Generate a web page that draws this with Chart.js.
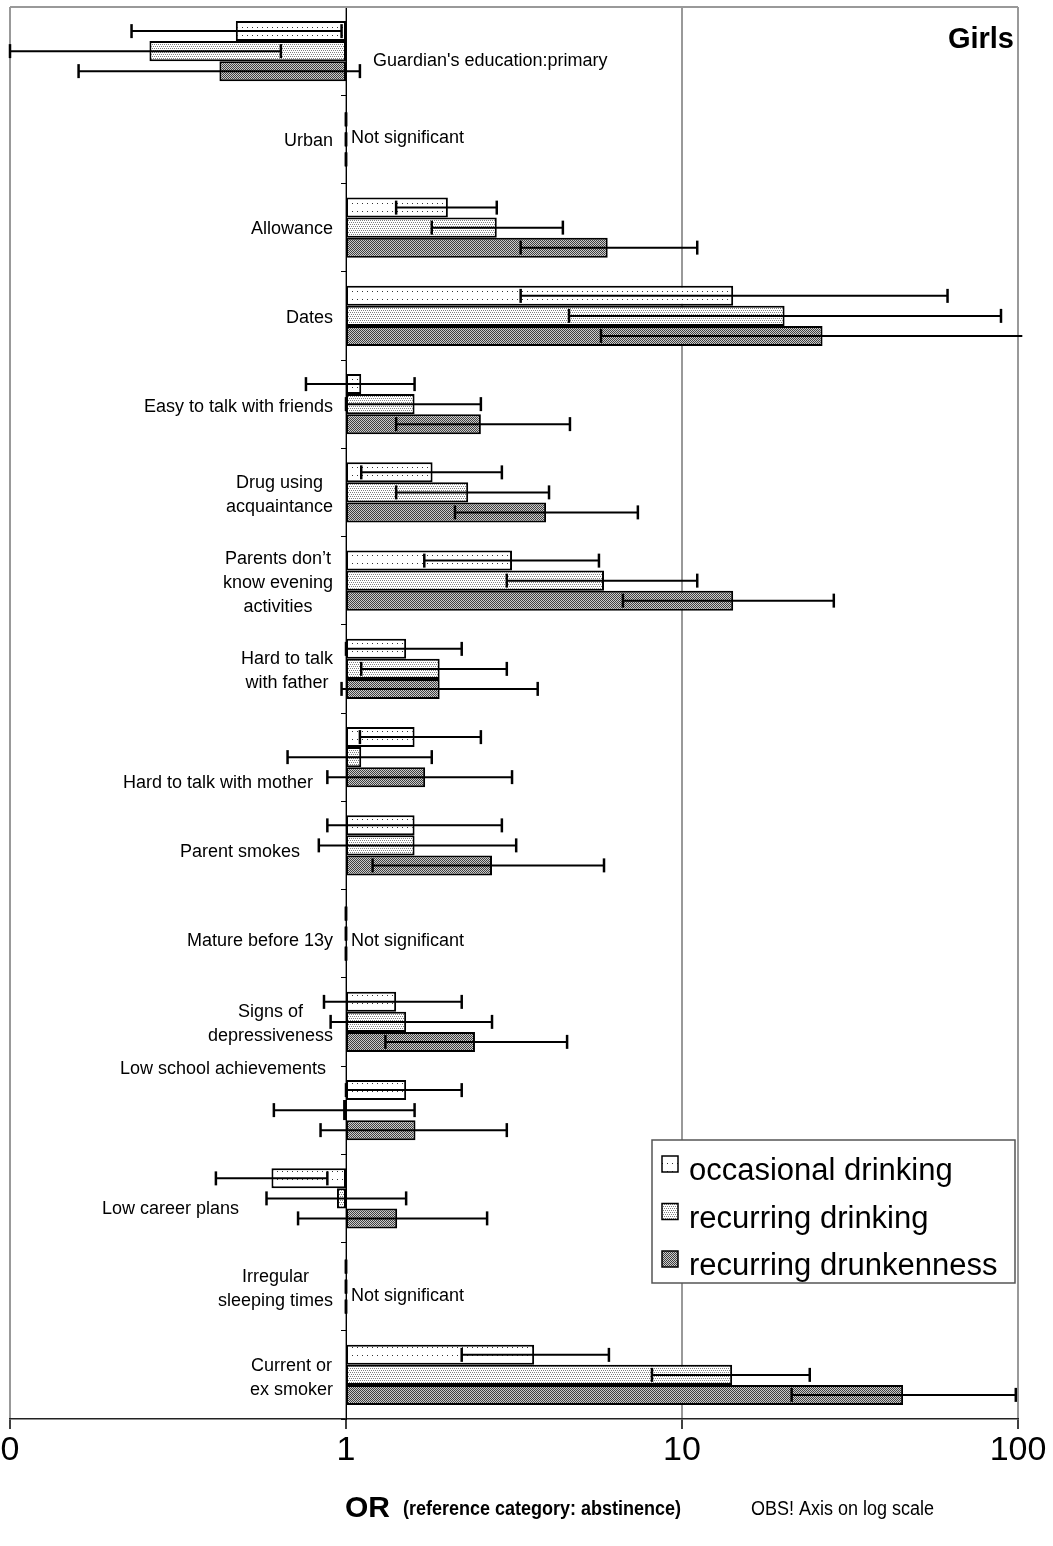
<!DOCTYPE html>
<html>
<head>
<meta charset="utf-8">
<title>OR girls</title>
<script src="https://cdn.jsdelivr.net/npm/chart.js@4.4.0/dist/chart.umd.min.js"></script>
<style>
	html, body { margin: 0; padding: 0; background: #fff; }
	#grafOR { display: block; }
</style>
</head>
<body>
<canvas id="grafOR" width="1053" height="1546"></canvas>
<script>
/*================ DATOS =================*/
const categorias = [
	"Guardian's education:primary",
	"Urban",
	"Allowance",
	"Dates",
	"Easy to talk with friends",
	["Drug using", "acquaintance"],
	["Parents don’t", "know evening", "activities"],
	["Hard to talk", "with father"],
	"Hard to talk with mother",
	"Parent smokes",
	"Mature before 13y",
	["Signs of", "depressiveness"],
	"Low school achievements",
	"Low career plans",
	["Irregular", "sleeping times"],
	["Current or", "ex smoker"]
];

const series = ["occasional drinking", "recurring drinking", "recurring drunkenness"];

// odds ratios (1 = not significant)
const occasional = [0.47, 1, 2.01, 14.2, 1.11, 1.81, 3.12, 1.51, 1.60, 1.60, 1, 1.41, 1.51, 0.60, 1, 3.63];
const occLo      = [0.23, 1, 1.41, 3.31, 0.76, 1.11, 1.71, 1.00, 1.10, 0.88, 1, 0.86, 1.00, 0.41, 1, 2.21];
const occHi      = [0.97, 1, 2.81, 61.7, 1.60, 2.91, 5.66, 2.21, 2.52, 2.91, 1, 2.21, 2.21, 0.88, 1, 6.06];

const recurring  = [0.26, 1, 2.81, 20.2, 1.60, 2.31, 5.86, 1.90, 1.11, 1.60, 1, 1.51, 0.98, 0.94, 1, 14.1];
const recLo      = [0.10, 1, 1.80, 4.61, 1.00, 1.41, 3.01, 1.11, 0.67, 0.83, 1, 0.90, 0.61, 0.58, 1, 8.14];
const recHi      = [0.64, 1, 4.42, 89.0, 2.52, 4.02, 11.1, 3.01, 1.80, 3.21, 1, 2.72, 1.60, 1.51, 1, 24.0];

const drunkenness = [0.42, 1, 6.01, 26.2, 2.52, 3.94, 14.2, 1.90, 1.72, 2.72, 1, 2.42, 1.61, 1.42, 1, 45.5];
const drunkLo     = [0.16, 1, 3.31, 5.74, 1.41, 2.11, 6.67, 0.97, 0.88, 1.20, 1, 1.31, 0.84, 0.72, 1, 21.2];
const drunkHi     = [1.10, 1, 11.1, 103,  4.64, 7.39, 28.3, 3.72, 3.12, 5.86, 1, 4.55, 3.01, 2.63, 1, 98.5];

const tickValues = [0.1, 1, 10, 100];
const tickLabels = ["0", "1", "10", "100"];

/*================ ESTILO =================*/
const FONT = "'Liberation Sans', Arial, Helvetica, sans-serif";

// label placement: dx from the OR=1 axis, dy from the category centre
const labelPos = [
	{ side: 'right', dx: 27, dy: 10 },
	{ dx: -13, dy: 2, ns: -1 },
	{ dx: -13, dy: 1 },
	{ dx: -13, dy: 2 },
	{ dx: -13, dy: 3 },
	{ dx: -13, dy: 3 },
	{ dx: -13, dy: 2 },
	{ dx: -13, dy: 2 },
	{ dx: -33, dy: 26 },
	{ dx: -46, dy: 7 },
	{ dx: -13, dy: 7, ns: 7 },
	{ dx: -13, dy: 2 },
	{ dx: -20, dy: -41 },
	{ dx: -107, dy: 11 },
	{ dx: -13, dy: 2, ns: 9 },
	{ dx: -13, dy: 3 }
];

const canvas = document.getElementById('grafOR');
const ctx0 = canvas.getContext('2d');

function makePattern(w, h, bg, dots, dotColor){
	const c = document.createElement('canvas');
	c.width = w; c.height = h;
	const g = c.getContext('2d');
	g.fillStyle = bg;
	g.fillRect(0, 0, w, h);
	g.fillStyle = dotColor;
	dots.forEach(p => g.fillRect(p[0], p[1], 1, 1));
	return ctx0.createPattern(c, 'repeat');
}

const patOcc = makePattern(5, 8, '#ffffff', [[2, 3]], '#333333');
const patRec = makePattern(4, 4, '#ffffff', [[0, 0], [2, 0], [1, 2], [3, 2]], '#808080');
const patDrunk = makePattern(2, 2, '#cccccc', [[0, 0], [1, 1]], '#404040');
const patterns = [patOcc, patRec, patDrunk];

const valores = [occasional, recurring, drunkenness];
const errLo = [occLo, recLo, drunkLo];
const errHi = [occHi, recHi, drunkHi];

const toBars = arr => arr.map(v => v === 1 ? null : [1, v]);

/*================ PLUGINS =================*/
const errorBars = {
	id: 'errorBars',
	afterDatasetsDraw(chart){
		const ctx = chart.ctx, xs = chart.scales.x;
		ctx.save();
		ctx.strokeStyle = '#000';
		chart.data.datasets.forEach((ds, d) => {
			const meta = chart.getDatasetMeta(d);
			meta.data.forEach((bar, i) => {
				const lo = errLo[d][i], hi = errHi[d][i];
				const y = bar.y;
				const x1 = xs.getPixelForValue(lo), x2 = xs.getPixelForValue(hi);
				ctx.lineWidth = 2;
				ctx.beginPath(); ctx.moveTo(x1, y); ctx.lineTo(x2, y); ctx.stroke();
				ctx.lineWidth = 2.5;
				[[lo, x1], [hi, x2]].forEach(([v, x]) => {
					if(v <= xs.max){
						ctx.beginPath(); ctx.moveTo(x, y - 7); ctx.lineTo(x, y + 7); ctx.stroke();
					}
				});
			});
		});
		ctx.restore();
	}
};

const extras = {
	id: 'extras',
	afterDraw(chart){
		const ctx = chart.ctx, xs = chart.scales.x, ys = chart.scales.y, area = chart.chartArea;
		const x1 = xs.getPixelForValue(1);
		ctx.save();

		// top edge of plot area
		ctx.strokeStyle = '#999';
		ctx.lineWidth = 2;
		ctx.beginPath(); ctx.moveTo(area.left, area.top); ctx.lineTo(area.right, area.top); ctx.stroke();

		// category labels
		ctx.fillStyle = '#000';
		ctx.font = '18px ' + FONT;
		ctx.textBaseline = 'middle';
		categorias.forEach((lab, i) => {
			const lines = Array.isArray(lab) ? lab : [lab];
			const p = labelPos[i];
			const yc = ys.getPixelForValue(i) + p.dy;
			const x0 = x1 + p.dx;
			const wmax = Math.max(...lines.map(l => ctx.measureText(l).width));
			lines.forEach((l, k) => {
				const y = yc + (k - (lines.length - 1) / 2) * 24;
				if(p.side === 'right'){
					ctx.textAlign = 'left';
					ctx.fillText(l, x0, y);
				} else {
					ctx.textAlign = 'center';
					ctx.fillText(l, x0 - wmax / 2, y);
				}
			});
			if(occasional[i] === 1 && recurring[i] === 1 && drunkenness[i] === 1){
				ctx.textAlign = 'left';
				ctx.fillText('Not significant', x1 + 5, ys.getPixelForValue(i) + (p.ns || 0));
			}
		});

		// Girls
		ctx.font = 'bold 29px ' + FONT;
		ctx.textAlign = 'right';
		ctx.textBaseline = 'alphabetic';
		ctx.fillText('Girls', 1014, 48);

		// legend
		ctx.fillStyle = '#fff';
		ctx.fillRect(652, 1140, 363, 143);
		ctx.strokeStyle = '#555';
		ctx.lineWidth = 1.5;
		ctx.strokeRect(652, 1140, 363, 143);
		ctx.font = '31px ' + FONT;
		ctx.textAlign = 'left';
		series.forEach((s, k) => {
			const base = 1180 + k * 47.5;
			ctx.fillStyle = patterns[k];
			ctx.fillRect(662, base - 24, 16, 16);
			ctx.strokeStyle = '#000';
			ctx.lineWidth = 1.5;
			ctx.strokeRect(662, base - 24, 16, 16);
			ctx.fillStyle = '#000';
			ctx.fillText(s, 689, base);
		});

		// axis title
		ctx.font = 'bold 30px ' + FONT;
		ctx.fillText('OR', 345, 1517);
		ctx.save();
		ctx.translate(403, 1515);
		ctx.scale(0.9, 1);
		ctx.font = 'bold 20px ' + FONT;
		ctx.fillText('(reference category: abstinence)', 0, 0);
		ctx.restore();
		ctx.save();
		ctx.translate(751, 1515);
		ctx.scale(0.9, 1);
		ctx.font = '20px ' + FONT;
		ctx.fillText('OBS! Axis on log scale', 0, 0);
		ctx.restore();

		ctx.restore();
	}
};

/*================ GRAFICA =================*/
new Chart(canvas, {
	type: 'bar',
	data: {
		labels: categorias,
		datasets: series.map((s, k) => ({
			label: s,
			data: toBars(valores[k]),
			backgroundColor: patterns[k],
			borderColor: '#000',
			borderWidth: 2,
			borderSkipped: false
		}))
	},
	options: {
		indexAxis: 'y',
		responsive: false,
		devicePixelRatio: 1,
		animation: false,
		categoryPercentage: 0.68,
		barPercentage: 1.0,
		layout: { padding: { left: 10, right: 35, top: 7, bottom: 0 } },
		plugins: {
			legend: { display: false },
			tooltip: { enabled: false }
		},
		scales: {
			x: {
				type: 'logarithmic',
				min: 0.1,
				max: 100,
				afterBuildTicks: s => { s.ticks = tickValues.map(v => ({ value: v })); },
				afterFit: s => {
					s.height = 127;
					s.paddingLeft = 0;
					s.paddingRight = 0;
				},
				ticks: {
					callback: (v, i) => tickLabels[i],
					font: { family: FONT, size: 34 },
					color: '#000',
					padding: 1,
					maxRotation: 0,
					autoSkip: false
				},
				grid: { color: '#999', lineWidth: 2, tickColor: '#000', tickLength: 10, tickWidth: 1.5 },
				border: { display: true, color: '#222', width: 1.5 }
			},
			y: {
				type: 'category',
				position: { x: 1 },
				offset: true,
				ticks: { display: false },
				grid: { offset: true, drawOnChartArea: false, tickLength: 5, tickColor: '#000', tickWidth: 1 },
				border: { display: true, color: '#000', width: 1 }
			}
		}
	},
	plugins: [errorBars, extras]
});
</script>
</body>
</html>
